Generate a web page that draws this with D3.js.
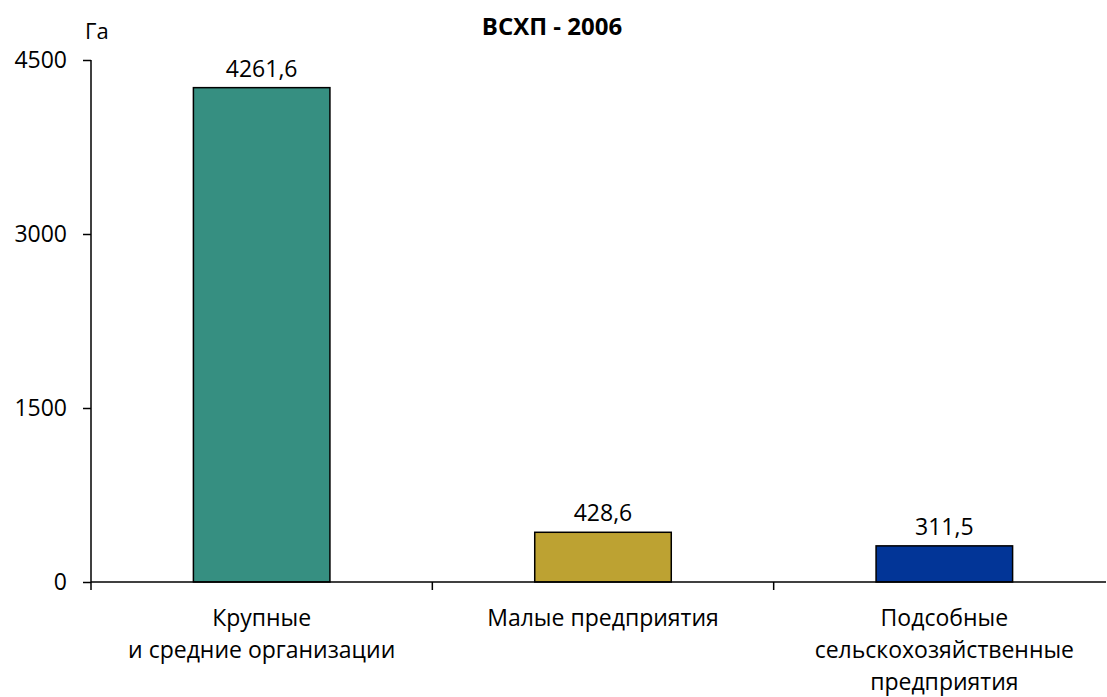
<!DOCTYPE html>
<html>
<head>
<meta charset="utf-8">
<script src="https://cdn.jsdelivr.net/npm/d3@7"></script>
<style>
  html, body { margin: 0; padding: 0; background: #fff; }
  svg { display: block; }
  text { font-family: "Open Sans", sans-serif; fill: #000; }
</style>
</head>
<body>
<svg id="chart" width="1107" height="697"></svg>
<script>
const categories = [
  ["Крупные", "и средние организации"],
  ["Малые предприятия"],
  ["Подсобные", "сельскохозяйственные", "предприятия"]
];
const values = [4261.6, 428.6, 311.5];
const valueLabels = ["4261,6", "428,6", "311,5"];
const colors = ["#368F81", "#BDA232", "#023597"];
const yTicks = [0, 1500, 3000, 4500];
const title = "ВСХП - 2006";
const unit = "Га";

(function () {
const svg = d3.select("#chart");
const mLeft = 91, mTop = 60, mBottom = 582;
const bandRight = 1115, axisRight = 1106;
const fs = 23;

const idx = categories.map((d, i) => i);
const x = d3.scaleBand().domain(idx).range([mLeft, bandRight]).paddingInner(0).paddingOuter(0);
const y = d3.scaleLinear().domain([0, 4500]).range([mBottom, mTop]);
const barW = x.bandwidth() * 0.4;

// Title
svg.append("text")
  .attr("x", 552).attr("y", 35)
  .attr("text-anchor", "middle")
  .attr("font-size", 24).attr("font-weight", "bold")
  .text(title);

// Unit
svg.append("text")
  .attr("x", 85).attr("y", 39)
  .attr("font-size", 22)
  .text(unit);

// Bars
svg.append("g").selectAll("rect")
  .data(values)
  .join("rect")
  .attr("x", (d, i) => x(i) + x.bandwidth() / 2 - barW / 2)
  .attr("y", d => y(d))
  .attr("width", barW)
  .attr("height", d => y(0) - y(d))
  .attr("fill", (d, i) => colors[i])
  .attr("stroke", "#000")
  .attr("stroke-width", 1.5);

// Value labels
svg.append("g").selectAll("text")
  .data(values)
  .join("text")
  .attr("x", (d, i) => x(i) + x.bandwidth() / 2)
  .attr("y", d => y(d) - 11)
  .attr("text-anchor", "middle")
  .attr("font-size", fs)
  .text((d, i) => valueLabels[i]);

// Y axis
const yAxis = d3.axisLeft(y).tickValues(yTicks).tickSize(8).tickPadding(16).tickFormat(d3.format("d"));
const gy = svg.append("g").attr("transform", `translate(${mLeft},0)`).call(yAxis);
gy.select(".domain").remove();
gy.selectAll(".tick line").attr("stroke", "#000").attr("stroke-width", 1.5);
gy.selectAll(".tick text").attr("font-size", fs).attr("font-family", "Open Sans, sans-serif").attr("fill", "#000");
svg.append("line")
  .attr("x1", mLeft).attr("x2", mLeft)
  .attr("y1", y(4500)).attr("y2", y(0))
  .attr("stroke", "#000").attr("stroke-width", 1.5);

// X axis
svg.append("line")
  .attr("x1", mLeft).attr("x2", axisRight)
  .attr("y1", y(0)).attr("y2", y(0))
  .attr("stroke", "#000").attr("stroke-width", 1.5);
const boundaries = idx.map(i => x(i));
svg.append("g").selectAll("line")
  .data(boundaries)
  .join("line")
  .attr("x1", d => d).attr("x2", d => d)
  .attr("y1", y(0)).attr("y2", y(0) + 8)
  .attr("stroke", "#000").attr("stroke-width", 1.5);

// Category labels
const cat = svg.append("g").selectAll("text")
  .data(categories)
  .join("text")
  .attr("x", (d, i) => x(i) + x.bandwidth() / 2)
  .attr("y", 626)
  .attr("text-anchor", "middle")
  .attr("font-size", fs);
cat.selectAll("tspan")
  .data(d => d)
  .join("tspan")
  .attr("x", function() { return d3.select(this.parentNode).attr("x"); })
  .attr("dy", (d, j) => j === 0 ? 0 : 32)
  .text(d => d);
})();
</script>
</body>
</html>
